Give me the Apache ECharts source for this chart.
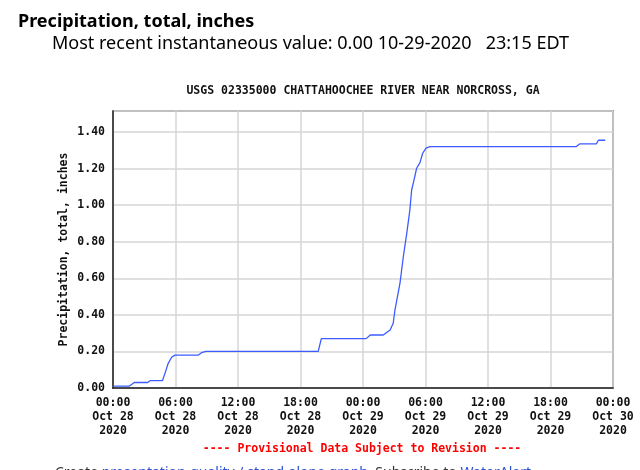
<!DOCTYPE html>
<html>
<head>
    <meta charset="utf-8">
    <title>Precipitation, total, inches</title>
    <script src="https://cdn.jsdelivr.net/npm/echarts@6/dist/echarts.min.js"></script>
    <style>
        html, body { margin: 0; padding: 0; background: #fff; }
        #chart { width: 640px; height: 470px; }
    </style>
</head>
<body>
<div id="chart"></div>
<script>
    // hours since 00:00 Oct 28 2020, cumulative precipitation in inches
    var hours = [0, 1.54, 2.05, 3.33, 3.55, 4.74, 4.99, 5.3, 5.63, 5.95, 8.2, 8.5, 8.93,
        19.7, 20.0, 24.3, 24.7, 25.95, 26.6, 26.9, 27.07, 27.55, 27.87, 28.2, 28.5,
        28.67, 28.9, 29.15, 29.47, 29.73, 30.05, 30.43, 44.45, 44.8, 46.4, 46.6, 47.25];
    var precip = [0.01, 0.01, 0.03, 0.03, 0.04, 0.04, 0.08, 0.135, 0.168, 0.18, 0.18, 0.193, 0.20,
        0.20, 0.27, 0.27, 0.29, 0.29, 0.317, 0.354, 0.427, 0.573, 0.718, 0.846, 0.974,
        1.083, 1.138, 1.202, 1.233, 1.284, 1.312, 1.32, 1.32, 1.335, 1.335, 1.355, 1.355];
    var xTickLabels = ['00:00\nOct 28\n2020', '06:00\nOct 28\n2020', '12:00\nOct 28\n2020',
        '18:00\nOct 28\n2020', '00:00\nOct 29\n2020', '06:00\nOct 29\n2020',
        '12:00\nOct 29\n2020', '18:00\nOct 29\n2020', '00:00\nOct 30\n2020'];
    var stationTitle = 'USGS 02335000 CHATTAHOOCHEE RIVER NEAR NORCROSS, GA';

    var points = [];
    for (var i = 0; i < hours.length; i++) {
        points.push([hours[i], precip[i]]);
    }

    var mono = 'bold 11.5px "DejaVu Sans Mono", "Liberation Mono", monospace';

    var option = {
        backgroundColor: '#fff',
        animation: false,
        grid: {
            left: 113, right: 27, top: 111, bottom: 82,
            show: true, borderColor: '#555', borderWidth: 1.5
        },
        xAxis: {
            type: 'value', min: 0, max: 48, interval: 6,
            axisLine: { show: true, onZero: false, lineStyle: { color: '#222', width: 1.5 } },
            axisTick: { show: false },
            splitLine: { show: true, lineStyle: { color: '#d6d6d6', width: 1.5 } },
            axisLabel: {
                margin: 8,
                lineHeight: 14,
                fontFamily: '"DejaVu Sans Mono", monospace',
                fontWeight: 'bold',
                fontSize: 11.5,
                color: '#111',
                formatter: function (v) { return xTickLabels[Math.round(v / 6)] || ''; }
            }
        },
        yAxis: {
            type: 'value', min: 0, max: 1.515, interval: 0.2,
            name: 'Precipitation, total, inches',
            nameLocation: 'middle',
            nameGap: 43,
            nameMoveOverlap: false,
            nameTextStyle: {
                fontFamily: '"DejaVu Sans Mono", monospace',
                fontWeight: 'bold',
                fontSize: 11.5,
                color: '#111'
            },
            axisLine: { show: true, lineStyle: { color: '#222', width: 1.5 } },
            axisTick: { show: false },
            splitLine: { show: true, lineStyle: { color: '#d6d6d6', width: 1.5 } },
            axisLabel: {
                margin: 8,
                fontFamily: '"DejaVu Sans Mono", monospace',
                fontWeight: 'bold',
                fontSize: 11.5,
                color: '#111',
                formatter: function (v) { return v > 1.41 ? '' : v.toFixed(2); }
            }
        },
        series: [{
            type: 'line',
            data: points,
            showSymbol: false,
            lineStyle: { color: '#3d5cff', width: 1.3 },
            z: 5
        }],
        graphic: [
            {
                type: 'text', x: 18, y: 22,
                style: {
                    text: 'Precipitation, total, inches',
                    font: 'bold 18px "Noto Sans", "Open Sans", sans-serif',
                    fill: '#000', verticalAlign: 'middle'
                }
            },
            {
                type: 'text', x: 52, y: 44,
                style: {
                    text: 'Most recent instantaneous value: 0.00 10-29-2020   23:15 EDT',
                    font: '18px "Noto Sans", "Open Sans", sans-serif',
                    fill: '#000', verticalAlign: 'middle'
                }
            },
            {
                type: 'text', x: 363, y: 91,
                style: {
                    text: stationTitle, font: mono, fill: '#111',
                    align: 'center', verticalAlign: 'middle'
                }
            },
            {
                type: 'text', x: 362, y: 449,
                style: {
                    text: '---- Provisional Data Subject to Revision ----',
                    font: mono, fill: '#ff0000',
                    align: 'center', verticalAlign: 'middle'
                }
            },
            {
                type: 'text', x: 55, y: 466,
                style: {
                    text: '{g|Create} {b|presentation-quality / stand-alone graph.} {g|Subscribe to} {b|WaterAlert}',
                    font: '14px "Noto Sans", sans-serif',
                    verticalAlign: 'top',
                    rich: {
                        g: { fill: '#333', font: '14px "Noto Sans", sans-serif' },
                        b: { fill: '#2a4fd0', font: '14px "Noto Sans", sans-serif' }
                    }
                }
            }
        ]
    };

    var chart = echarts.init(document.getElementById('chart'));
    chart.setOption(option);
</script>
</body>
</html>
